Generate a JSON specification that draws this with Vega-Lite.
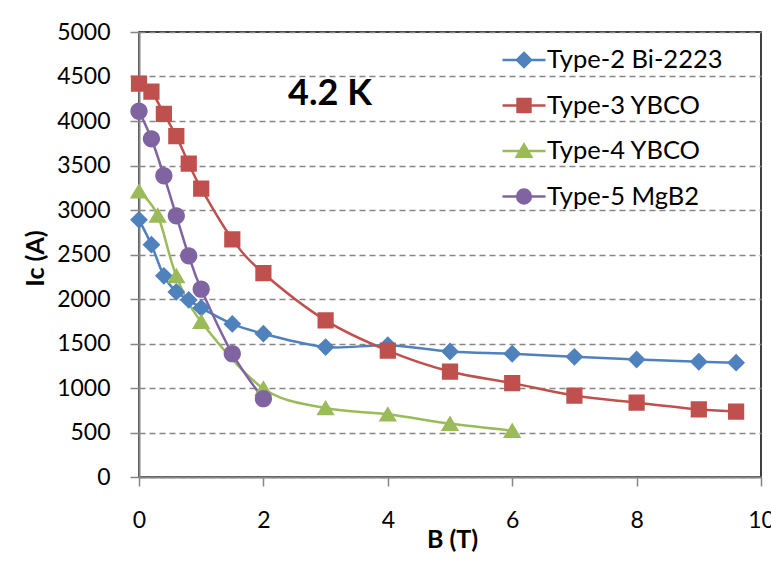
{
  "$schema": "https://vega.github.io/schema/vega-lite/v6.json",
  "width": 622,
  "height": 445,
  "autosize": {"type": "none"},
  "padding": {"left": 139, "top": 32, "right": 10, "bottom": 94},
  "background": "white",
  "config": {
    "font": "Lato",
    "view": {"stroke": "black", "strokeWidth": 1.5},
    "axis": {
      "domainColor": "#868686",
      "domainWidth": 2,
      "tickColor": "#868686",
      "tickWidth": 1.5,
      "tickSize": 9,
      "labelFont": "Lato",
      "labelFontSize": 23,
      "labelColor": "black",
      "labelFlush": false,
      "titleFont": "Lato",
      "titleFontSize": 25,
      "titleFontWeight": "bold",
      "titleColor": "black",
      "gridColor": "#868686",
      "gridDash": [6, 4],
      "gridWidth": 1.3
    },
    "legend": {"symbolStrokeWidth": 2.5}
  },
  "data": {
    "values": [
      {"series": "Type-2 Bi-2223", "B": 0, "Ic": 2890},
      {"series": "Type-2 Bi-2223", "B": 0.2, "Ic": 2610},
      {"series": "Type-2 Bi-2223", "B": 0.4, "Ic": 2260},
      {"series": "Type-2 Bi-2223", "B": 0.6, "Ic": 2080},
      {"series": "Type-2 Bi-2223", "B": 0.8, "Ic": 1990},
      {"series": "Type-2 Bi-2223", "B": 1, "Ic": 1900},
      {"series": "Type-2 Bi-2223", "B": 1.5, "Ic": 1720},
      {"series": "Type-2 Bi-2223", "B": 2, "Ic": 1610},
      {"series": "Type-2 Bi-2223", "B": 3, "Ic": 1460},
      {"series": "Type-2 Bi-2223", "B": 4, "Ic": 1480},
      {"series": "Type-2 Bi-2223", "B": 5, "Ic": 1410},
      {"series": "Type-2 Bi-2223", "B": 6, "Ic": 1385},
      {"series": "Type-2 Bi-2223", "B": 7, "Ic": 1350},
      {"series": "Type-2 Bi-2223", "B": 8, "Ic": 1320},
      {"series": "Type-2 Bi-2223", "B": 9, "Ic": 1295},
      {"series": "Type-2 Bi-2223", "B": 9.6, "Ic": 1285},
      {"series": "Type-3 YBCO", "B": 0, "Ic": 4420},
      {"series": "Type-3 YBCO", "B": 0.2, "Ic": 4330},
      {"series": "Type-3 YBCO", "B": 0.4, "Ic": 4080},
      {"series": "Type-3 YBCO", "B": 0.6, "Ic": 3830},
      {"series": "Type-3 YBCO", "B": 0.8, "Ic": 3520},
      {"series": "Type-3 YBCO", "B": 1, "Ic": 3240},
      {"series": "Type-3 YBCO", "B": 1.5, "Ic": 2670},
      {"series": "Type-3 YBCO", "B": 2, "Ic": 2290},
      {"series": "Type-3 YBCO", "B": 3, "Ic": 1760},
      {"series": "Type-3 YBCO", "B": 4, "Ic": 1420},
      {"series": "Type-3 YBCO", "B": 5, "Ic": 1185},
      {"series": "Type-3 YBCO", "B": 6, "Ic": 1055},
      {"series": "Type-3 YBCO", "B": 7, "Ic": 915},
      {"series": "Type-3 YBCO", "B": 8, "Ic": 835},
      {"series": "Type-3 YBCO", "B": 9, "Ic": 760},
      {"series": "Type-3 YBCO", "B": 9.6, "Ic": 735},
      {"series": "Type-4 YBCO", "B": 0, "Ic": 3210},
      {"series": "Type-4 YBCO", "B": 0.3, "Ic": 2940},
      {"series": "Type-4 YBCO", "B": 0.6, "Ic": 2260},
      {"series": "Type-4 YBCO", "B": 1, "Ic": 1745},
      {"series": "Type-4 YBCO", "B": 2, "Ic": 995},
      {"series": "Type-4 YBCO", "B": 3, "Ic": 775},
      {"series": "Type-4 YBCO", "B": 4, "Ic": 705},
      {"series": "Type-4 YBCO", "B": 5, "Ic": 600},
      {"series": "Type-4 YBCO", "B": 6, "Ic": 520},
      {"series": "Type-5 MgB2", "B": 0, "Ic": 4110},
      {"series": "Type-5 MgB2", "B": 0.2, "Ic": 3800},
      {"series": "Type-5 MgB2", "B": 0.4, "Ic": 3385},
      {"series": "Type-5 MgB2", "B": 0.6, "Ic": 2935},
      {"series": "Type-5 MgB2", "B": 0.8, "Ic": 2485},
      {"series": "Type-5 MgB2", "B": 1, "Ic": 2110},
      {"series": "Type-5 MgB2", "B": 1.5, "Ic": 1385},
      {"series": "Type-5 MgB2", "B": 2, "Ic": 880}
    ]
  },
  "layer": [
    {
      "mark": {"type": "line", "interpolate": "cardinal", "strokeWidth": 2.5},
      "encoding": {
        "x": {
          "field": "B", "type": "quantitative",
          "scale": {"domain": [0, 10], "nice": false},
          "axis": {"values": [0, 2, 4, 6, 8, 10], "format": "d", "title": "B (T)", "grid": false, "labelPadding": 23, "titleX": 313, "titleY": 62, "titleBaseline": "middle"}
        },
        "y": {
          "field": "Ic", "type": "quantitative",
          "scale": {"domain": [0, 5000], "nice": false},
          "axis": {"values": [0, 500, 1000, 1500, 2000, 2500, 3000, 3500, 4000, 4500, 5000], "format": "d", "title": "Ic (A)", "grid": true, "labelPadding": 20, "titleX": -104, "titleY": 226, "titleBaseline": "middle", "titleAngle": -90}
        },
        "color": {
          "field": "series", "type": "nominal",
          "scale": {"domain": ["Type-2 Bi-2223", "Type-3 YBCO", "Type-4 YBCO", "Type-5 MgB2"], "range": ["#4F81BD", "#C0504D", "#9BBB59", "#8064A2"]},
          "legend": {
            "orient": "none", "legendX": 362, "legendY": 5, "title": null,
            "padding": 0, "symbolSize": 1849, "labelFontSize": 25.5, "labelFont": "Lato", "labelColor": "black",
            "labelOffset": 0, "rowPadding": 8.5, "labelLimit": 400, "symbolStrokeWidth": 2.5
          }
        },
        "order": {"field": "B", "type": "quantitative"}
      }
    },
    {
      "mark": {"type": "point", "filled": true, "opacity": 1, "size": 2916},
      "encoding": {
        "x": {"field": "B", "type": "quantitative"},
        "y": {"field": "Ic", "type": "quantitative"},
        "color": {"field": "series", "type": "nominal"},
        "shape": {
          "field": "series", "type": "nominal",
          "scale": {"domain": ["Type-2 Bi-2223", "Type-3 YBCO", "Type-4 YBCO", "Type-5 MgB2"], "range": ["M-1,0H1M0,-0.33L0.33,0L0,0.33L-0.33,0Z", "M-1,0H1M-0.3,-0.3H0.3V0.3H-0.3Z", "M-1,0H1M0,-0.3L0.34,0.27H-0.34Z", "M-1,0H1M-0.32,0A0.32,0.32,0,1,0,0.32,0A0.32,0.32,0,1,0,-0.32,0Z"]},
          "legend": {
            "orient": "none", "legendX": 362, "legendY": 5, "title": null,
            "padding": 0, "symbolSize": 1849, "labelFontSize": 25.5, "labelFont": "Lato", "labelColor": "black",
            "labelOffset": 0, "rowPadding": 8.5, "labelLimit": 400, "symbolStrokeWidth": 2.5
          }
        }
      }
    },
    {
      "data": {"values": [{"label": "4.2 K"}]},
      "mark": {"type": "text", "fontSize": 36, "fontWeight": "bold", "font": "Lato", "color": "black"},
      "encoding": {
        "x": {"datum": 3.07, "type": "quantitative"},
        "y": {"datum": 4300, "type": "quantitative"},
        "text": {"field": "label"}
      }
    }
  ]
}
